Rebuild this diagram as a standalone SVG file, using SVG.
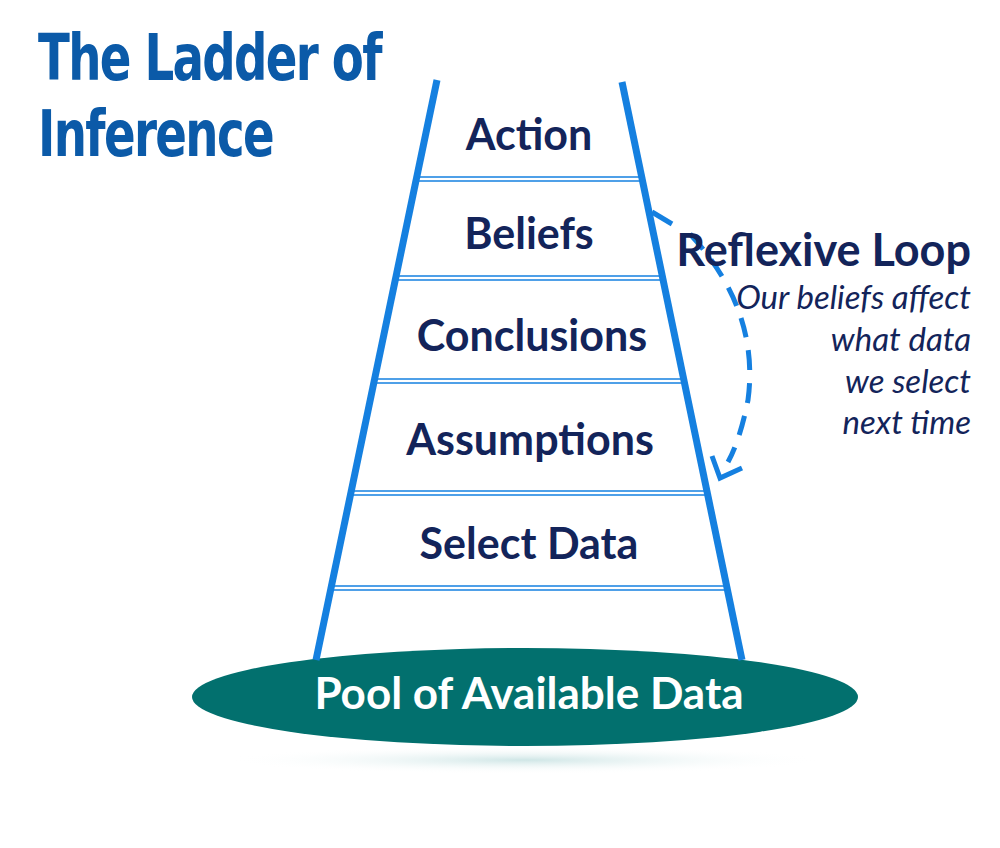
<svg xmlns="http://www.w3.org/2000/svg" width="1000" height="848" viewBox="0 0 1000 848">
<defs>
<style>
.rail{stroke:#1580e0;stroke-width:7;stroke-linecap:butt}
.rung{stroke:#1580e0;stroke-width:1.5}
.lbl{font-family:Lato,"Open Sans",sans-serif;font-weight:bold;font-size:43px;fill:#13245a;text-anchor:middle}
.it{font-family:Lato,"Open Sans",sans-serif;font-style:italic;font-size:33px;fill:#13245a;text-anchor:end}
.title{font-family:"DejaVu Sans Condensed","DejaVu Sans",sans-serif;font-weight:bold;font-size:64px;fill:#0b5aa8;letter-spacing:-2px}
</style>
<radialGradient id="sh" cx="0.5" cy="0.5" r="0.5"><stop offset="0" stop-color="#cfe6e6"/><stop offset="1" stop-color="#ffffff" stop-opacity="0"/></radialGradient>
</defs>
<g id="title" transform="translate(38,0) scale(0.81,1)"><text class="title" x="0" y="80">The Ladder of</text><text class="title" x="0" y="156">Inference</text></g>
<g id="pool">
<ellipse cx="525" cy="760" rx="300" ry="14" fill="url(#sh)"/>
<ellipse cx="525" cy="697" rx="333" ry="49" fill="#02706e"/>
<text x="529" y="709" font-family="Lato,'Open Sans',sans-serif" font-weight="bold" font-size="44" fill="#fff" text-anchor="middle">Pool of Available Data</text>
</g>
<g id="ladder">
<line class="rail" x1="437" y1="80" x2="316" y2="660"/>
<line class="rail" x1="622" y1="82" x2="742" y2="660"/>
<g class="rung">
<line x1="416" y1="177" x2="642" y2="177"/><line x1="416" y1="181" x2="642" y2="181"/>
<line x1="396" y1="276" x2="663" y2="276"/><line x1="396" y1="280" x2="663" y2="280"/>
<line x1="374" y1="379" x2="684" y2="379"/><line x1="374" y1="383" x2="684" y2="383"/>
<line x1="351" y1="491" x2="707" y2="491"/><line x1="351" y1="495" x2="707" y2="495"/>
<line x1="331" y1="586" x2="727" y2="586"/><line x1="331" y1="590" x2="727" y2="590"/>
</g>
</g>
<g id="steps">
<text class="lbl" x="529" y="150">Action</text>
<text class="lbl" x="529" y="249">Beliefs</text>
<text class="lbl" x="532" y="351">Conclusions</text>
<text class="lbl" x="530" y="455">Assumptions</text>
<text class="lbl" x="529" y="559">Select Data</text>
</g>
<g id="connectors" fill="none" stroke="#1580e0" stroke-width="5">
<path d="M652,212 L672,224"/>
<path d="M690,234 Q760,310 748,400 Q740,440 728,462" stroke-dasharray="20,13"/>
<path d="M712,456 L720,478 L742,468"/>
</g>
<g id="loop">
<text x="971" y="266" font-family="Lato,'Open Sans',sans-serif" font-weight="bold" font-size="45" fill="#13245a" text-anchor="end">Reflexive Loop</text>
<text class="it" x="971" y="309">Our beliefs affect</text>
<text class="it" x="971" y="351">what data</text>
<text class="it" x="971" y="393">we select</text>
<text class="it" x="971" y="434">next time</text>
</g>
</svg>
